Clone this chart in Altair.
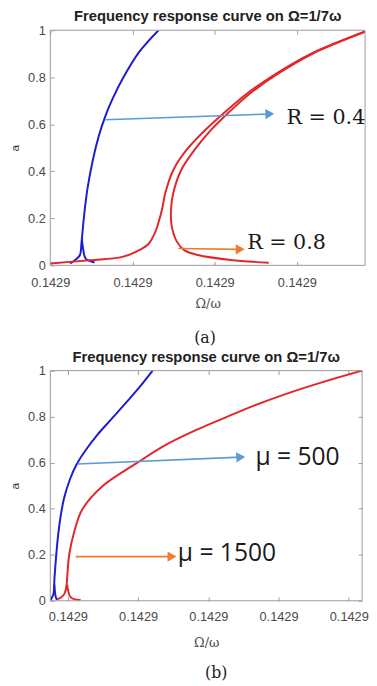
import altair as alt
import pandas as pd

# ---------------- x axis: Omega/omega (all ticks round to 0.1429) ----------------
X0 = 0.14285714          # value at the first labelled tick
DX = 1.0e-7              # distance between two labelled ticks

A_XTICK_STEPS = [0, 1, 2, 3]
B_XTICK_STEPS = [0, 1, 2, 3, 4]
A_XRANGE = [0.0, 3.83]
B_XRANGE = [-0.25, 4.19]
Y_TICKS = [0, 0.2, 0.4, 0.6, 0.8, 1.0]

TITLE = "Frequency response curve on Ω=1/7ω"
XTITLE = "Ω/ω"
YTITLE = "a"

# ---------------- panel (a): R = 0.4 (blue), R = 0.8 (red) ----------------
# x given in tick steps from X0, a = amplitude
a_blue_main_s = [0.240, 0.299, 0.359, 0.380, 0.411, 0.451, 0.519, 0.590, 0.670, 0.760, 0.890, 1.078, 1.317]
a_blue_main_a = [0.008, 0.022, 0.043, 0.099, 0.211, 0.323, 0.450, 0.550, 0.635, 0.710, 0.800, 0.906, 1.0]
a_blue_back_s = [0.384, 0.399, 0.431, 0.539]
a_blue_back_a = [0.115, 0.071, 0.029, 0.012]

a_red_left_s = [0.0, 0.479, 0.878, 1.117, 1.198, 1.277, 1.317, 1.360, 1.400, 1.500, 1.660, 1.886,
                2.120, 2.395, 2.745, 3.170, 3.868]
a_red_left_a = [0.008, 0.022, 0.036, 0.071, 0.092, 0.141, 0.183, 0.239, 0.309, 0.408, 0.492, 0.576,
                0.650, 0.731, 0.815, 0.900, 1.0]
a_red_right_s = [2.659, 2.192, 1.796, 1.629, 1.537, 1.476, 1.469, 1.497, 1.596, 1.757, 1.956, 2.170,
                 2.430, 2.770, 3.190, 3.868]
a_red_right_a = [0.011, 0.023, 0.044, 0.065, 0.103, 0.169, 0.239, 0.309, 0.408, 0.492, 0.576, 0.650,
                 0.731, 0.815, 0.900, 0.998]

a_arrow_x1 = [0.671, 1.557]
a_arrow_y1 = [0.619, 0.072]
a_arrow_x2 = [2.671, 2.311]
a_arrow_y2 = [0.644, 0.068]
a_arrow_ang = [358, 0]
a_label_text = ["R = 0.4", "R = 0.8"]
a_label_x = [2.874, 2.395]
a_label_y = [0.625, 0.093]

# ---------------- panel (b): mu = 500 (blue), mu = 1500 (red) ----------------
b_blue_main_s = [-0.248, -0.238, -0.205, -0.191, -0.170, -0.144, -0.108, -0.055, 0.030, 0.120, 0.255,
                 0.420, 0.610, 0.835, 1.020, 1.207]
b_blue_main_a = [0.0, 0.007, 0.030, 0.095, 0.182, 0.269, 0.357, 0.444, 0.528, 0.590, 0.655,
                 0.721, 0.786, 0.863, 0.928, 1.0]
b_blue_back_s = [-0.192, -0.180, -0.165, -0.145]
b_blue_back_a = [0.070, 0.030, 0.010, 0.003]

b_red_main_s = [-0.154, -0.098, -0.050, -0.025, -0.014, -0.005, 0.019, 0.089, 0.205, 0.500, 0.975,
                1.394, 1.814, 2.233, 2.653, 3.119, 3.650, 4.190]
b_red_main_a = [0.007, 0.014, 0.030, 0.055, 0.080, 0.120, 0.200, 0.298, 0.397, 0.500, 0.597,
                0.677, 0.740, 0.795, 0.848, 0.900, 0.952, 1.0]
b_red_back_s = [-0.010, 0.004, 0.032, 0.088, 0.182]
b_red_back_a = [0.070, 0.045, 0.018, 0.007, 0.003]

b_arrow_x1 = [0.136, 0.112]
b_arrow_y1 = [0.594, 0.192]
b_arrow_x2 = [2.462, 1.483]
b_arrow_y2 = [0.624, 0.192]
b_arrow_ang = [357, 0]
b_label_text = ["μ = 500", "μ = 1500"]
b_label_x = [2.671, 1.566]
b_label_y = [0.624, 0.208]

# ---------------- styling ----------------
BLUE = "#1c1cd0"
RED = "#e3262b"
ARROW_BLUE = "#5b9bd5"
ARROW_ORANGE = "#ed7d31"
FRAME = "#9a9a9a"
LABEL = "#4a4a4a"


def to_x(s):
    return X0 + s * DX


def curve_df(branches):
    rows = []
    for name, col, ss, aa in branches:
        for i, (s, a) in enumerate(zip(ss, aa)):
            rows.append({"x": to_x(s), "a": a, "branch": name, "col": col, "i": i})
    return pd.DataFrame(rows)


def panel(branches, ax1, ay1, ax2, ay2, aang, ltext, lx, ly, xrange, xticks, width, height,
          right_axis, label_font, label_size, label_pad, xtitle_pad):
    xs = alt.Scale(domain=[to_x(xrange[0]), to_x(xrange[1])], nice=False, zero=False)
    ys = alt.Scale(domain=[0, 1], nice=False, zero=False)
    tickvals = [to_x(k) for k in xticks]

    bottom = alt.Axis(orient="bottom", values=tickvals, format=".4f", offset=-4, tickSize=4,
                      tickColor=FRAME, domain=False, grid=False, labelFlush=False, labelOverlap=False,
                      labelFont="Liberation Sans", labelFontSize=13, labelColor=LABEL,
                      labelPadding=label_pad, title=XTITLE, titleFont="DejaVu Serif", titleFontSize=13,
                      titleFontWeight="normal", titleColor=LABEL, titlePadding=xtitle_pad)
    left = alt.Axis(orient="left", values=Y_TICKS, format="~g", offset=-4, tickSize=4,
                    tickColor=FRAME, domain=False, grid=False, labelFont="Liberation Sans",
                    labelFontSize=13, labelColor=LABEL, labelPadding=5, title=YTITLE,
                    titleFont="Liberation Sans", titleFontSize=12, titleFontWeight="normal",
                    titleColor="#333333", titlePadding=6)
    top = alt.Axis(orient="top", values=tickvals, offset=-4, tickSize=4, tickColor=FRAME,
                   domain=False, grid=False, labels=False, title=None)
    right = alt.Axis(orient="right", values=Y_TICKS, offset=-4, tickSize=4, tickColor=FRAME,
                     domain=False, grid=False, labels=False, title=None)

    cdf = curve_df(branches)
    curves = alt.Chart(cdf).mark_line(strokeWidth=2, clip=True, interpolate="catmull-rom").encode(
        x=alt.X("x:Q", scale=xs, axis=bottom),
        y=alt.Y("a:Q", scale=ys, axis=left),
        color=alt.Color("col:N", scale=None),
        detail="branch:N",
        order="i:Q",
    )

    xa, xb = to_x(xrange[0]), to_x(xrange[1])
    fdf = pd.DataFrame({
        "x": [xa, xa, xa, xb],
        "x2": [xb, xa, xb, xb],
        "y": [1.0, 0.0, 0.0, 0.0],
        "y2": [1.0, 1.0, 0.0, 1.0],
    })
    frame = alt.Chart(fdf).mark_rule(color=FRAME, strokeWidth=1).encode(
        x=alt.X("x:Q", scale=xs, axis=top),
        x2="x2:Q",
        y=alt.Y("y:Q", scale=ys, axis=right if right_axis else None),
        y2="y2:Q",
    )

    adf = pd.DataFrame({
        "x": [to_x(v) for v in ax1], "y": ay1,
        "x2": [to_x(v) for v in ax2], "y2": ay2,
        "ang": aang, "col": [ARROW_BLUE, ARROW_ORANGE],
    })
    arrows = alt.Chart(adf).mark_rule(strokeWidth=1.6).encode(
        x=alt.X("x:Q", scale=xs, axis=None), x2="x2:Q",
        y=alt.Y("y:Q", scale=ys, axis=None), y2="y2:Q",
        color=alt.Color("col:N", scale=None),
    )
    heads = alt.Chart(adf).mark_point(shape="triangle-right", filled=True, size=110, opacity=1).encode(
        x=alt.X("x2:Q", scale=xs, axis=None),
        y=alt.Y("y2:Q", scale=ys, axis=None),
        color=alt.Color("col:N", scale=None),
        angle=alt.Angle("ang:Q", scale=None),
    )

    ldf = pd.DataFrame({"t": ltext, "x": [to_x(v) for v in lx], "a": ly})
    labels = alt.Chart(ldf).mark_text(align="left", baseline="middle", font=label_font,
                                      fontSize=label_size, color="#1a1a1a").encode(
        x=alt.X("x:Q", scale=xs, axis=None),
        y=alt.Y("a:Q", scale=ys, axis=None),
        text="t:N",
    )

    return alt.layer(curves, frame, arrows, heads, labels).properties(
        width=width, height=height,
        title=alt.TitleParams(TITLE, font="Liberation Sans", fontSize=15, fontWeight="bold",
                              color="#222222", anchor="middle", frame="group", offset=0),
    ).resolve_axis(x="independent", y="independent")


panel_a = panel(
    [("blue_main", BLUE, a_blue_main_s, a_blue_main_a),
     ("blue_back", BLUE, a_blue_back_s, a_blue_back_a),
     ("red_left", RED, a_red_left_s, a_red_left_a),
     ("red_right", RED, a_red_right_s, a_red_right_a)],
    a_arrow_x1, a_arrow_y1, a_arrow_x2, a_arrow_y2, a_arrow_ang,
    a_label_text, a_label_x, a_label_y,
    A_XRANGE, A_XTICK_STEPS, 320, 239, False, "DejaVu Serif", 21, 12, 8,
)

panel_b = panel(
    [("blue_main", BLUE, b_blue_main_s, b_blue_main_a),
     ("blue_back", BLUE, b_blue_back_s, b_blue_back_a),
     ("red_main", RED, b_red_main_s, b_red_main_a),
     ("red_back", RED, b_red_back_s, b_red_back_a)],
    b_arrow_x1, b_arrow_y1, b_arrow_x2, b_arrow_y2, b_arrow_ang,
    b_label_text, b_label_x, b_label_y,
    B_XRANGE, B_XTICK_STEPS, 317, 234, True, "Open Sans", 25, 10, 13,
)

block_a = alt.vconcat(panel_a, title=alt.TitleParams(
    "(a)", orient="bottom", font="DejaVu Serif", fontSize=16, fontWeight="normal",
    color="#222222", anchor="middle", dx=18, offset=20))
block_b = alt.vconcat(panel_b, title=alt.TitleParams(
    "(b)", orient="bottom", font="DejaVu Serif", fontSize=16, fontWeight="normal",
    color="#222222", anchor="middle", dx=28, offset=16))

chart = alt.vconcat(block_a, block_b, spacing=4).properties(
    padding={"left": 0, "top": -4, "right": 0, "bottom": 0}
).configure_view(strokeWidth=0)

chart.save("out.html", embed_options={"renderer": "svg", "actions": False})
